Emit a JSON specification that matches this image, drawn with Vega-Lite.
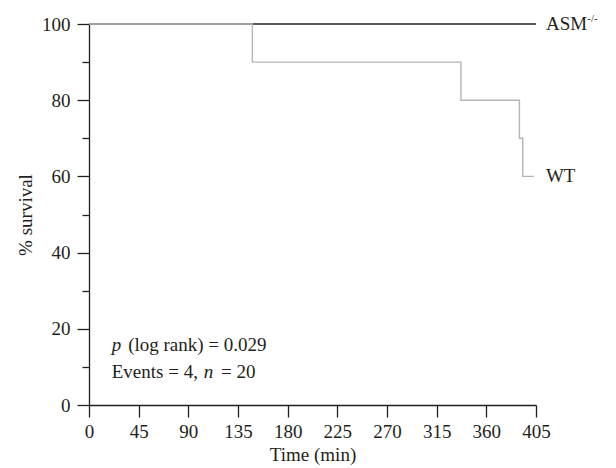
{
  "$schema": "https://vega.github.io/schema/vega-lite/v6.json",
  "autosize": "none",
  "width": 447,
  "height": 381,
  "padding": {"left": 89, "top": 24, "right": 80, "bottom": 63},
  "background": "white",
  "config": {
    "view": {"stroke": null},
    "font": "Liberation Serif",
    "axis": {
      "labelFont": "Liberation Serif",
      "titleFont": "Liberation Serif",
      "labelFontSize": 19,
      "titleFontSize": 19,
      "titleFontWeight": "normal",
      "labelColor": "#231f20",
      "titleColor": "#231f20",
      "domainColor": "#231f20",
      "tickColor": "#231f20",
      "domainWidth": 1.3,
      "tickWidth": 1.3,
      "grid": false
    },
    "text": {"font": "Liberation Serif", "fontSize": 19, "color": "#231f20"}
  },
  "layer": [
    {
      "data": {"values": [
        {"group": "ASM", "time": 0, "survival": 100},
        {"group": "ASM", "time": 405, "survival": 100}
      ]},
      "mark": {"type": "line", "color": "#231f20", "strokeWidth": 1.4, "clip": false},
      "encoding": {
        "x": {"field": "time", "type": "quantitative", "scale": {"domain": [0, 405], "nice": false},
              "axis": {"values": [0, 45, 90, 135, 180, 225, 270, 315, 360, 405], "tickSize": 12, "labelPadding": 5, "title": "Time (min)", "titlePadding": 4, "labelFlush": false}},
        "y": {"field": "survival", "type": "quantitative", "scale": {"domain": [0, 100], "nice": false},
              "axis": {"values": [0, 20, 40, 60, 80, 100], "tickSize": 12, "labelPadding": 7, "title": "% survival", "titlePadding": 6, "labelFlush": false}}
      }
    },
    {
      "data": {"values": [
        {"group": "WT", "time": 0, "survival": 100},
        {"group": "WT", "time": 148, "survival": 90},
        {"group": "WT", "time": 337, "survival": 80},
        {"group": "WT", "time": 390, "survival": 70},
        {"group": "WT", "time": 393, "survival": 60},
        {"group": "WT", "time": 403, "survival": 60}
      ]},
      "mark": {"type": "line", "color": "#b5b5b5", "strokeWidth": 1.4, "interpolate": "step-after", "clip": false},
      "encoding": {
        "x": {"field": "time", "type": "quantitative"},
        "y": {"field": "survival", "type": "quantitative",
              "axis": {"values": [10, 30, 50, 70, 90], "tickSize": 7, "labels": false, "domain": false, "title": null, "orient": "left"}}
      }
    },
    {
      "data": {"values": [
        {"label": "ASM", "time": 414, "survival": 100},
        {"label": "WT", "time": 414, "survival": 60},
        {"label": "(log rank) = 0.029", "time": 35.5, "survival": 15.7},
        {"label": "Events = 4,", "time": 20.6, "survival": 8.7},
        {"label": "= 20", "time": 119.6, "survival": 8.7}
      ]},
      "mark": {"type": "text", "align": "left", "baseline": "middle", "clip": false},
      "encoding": {
        "x": {"field": "time", "type": "quantitative"},
        "y": {"field": "survival", "type": "quantitative", "axis": null},
        "text": {"field": "label"}
      }
    },
    {
      "data": {"values": [
        {"label": "p", "time": 20.6, "survival": 15.7},
        {"label": "n", "time": 104, "survival": 8.7}
      ]},
      "mark": {"type": "text", "align": "left", "baseline": "middle", "fontStyle": "italic", "clip": false},
      "encoding": {
        "x": {"field": "time", "type": "quantitative"},
        "y": {"field": "survival", "type": "quantitative", "axis": null},
        "text": {"field": "label"}
      }
    },
    {
      "data": {"values": [
        {"label": "-/-", "time": 451.5, "survival": 100}
      ]},
      "mark": {"type": "text", "align": "left", "baseline": "middle", "fontSize": 11, "dy": -5, "clip": false},
      "encoding": {
        "x": {"field": "time", "type": "quantitative"},
        "y": {"field": "survival", "type": "quantitative", "axis": null},
        "text": {"field": "label"}
      }
    }
  ],
  "resolve": {"axis": {"y": "independent"}}
}
